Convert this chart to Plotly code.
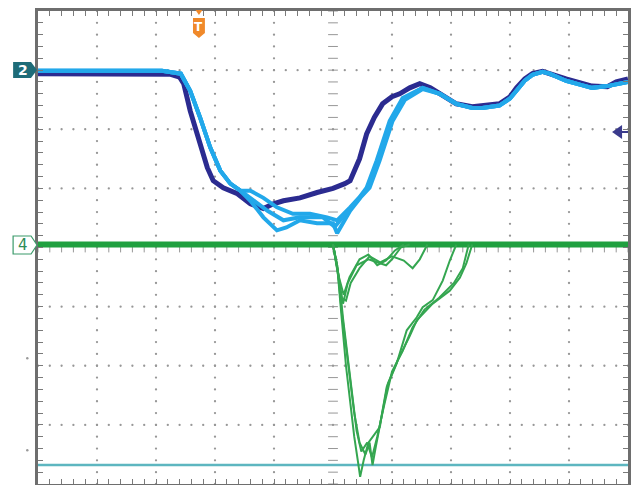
import numpy as np
import plotly.graph_objects as go

# ---------------- data (screen divisions: x -5..5, y -4..4) ----------------
ch2_dark_x = [-5, -3.1, -2.75, -2.6, -2.53, -2.42, -2.25, -2.13, -2.03, -1.86, -1.62, -1.40, -1.18,
              -1.01, -0.84, -0.56, -0.27, 0, 0.2, 0.29, 0.45, 0.57, 0.70, 0.84, 1.0, 1.13, 1.3, 1.47,
              1.65, 1.81, 2.09, 2.36, 2.53, 2.82, 3.0, 3.11, 3.25, 3.38, 3.55, 3.67, 3.95, 4.39, 4.65,
              4.80, 5]
ch2_dark_y = [2.94, 2.94, 2.93, 2.88, 2.77, 2.31, 1.76, 1.35, 1.13, 1.01, 0.91, 0.74, 0.66,
              0.74, 0.79, 0.84, 0.93, 1.0, 1.08, 1.13, 1.5, 1.92, 2.2, 2.43, 2.55, 2.60, 2.70, 2.77,
              2.70, 2.60, 2.43, 2.38, 2.40, 2.43, 2.55, 2.70, 2.85, 2.94, 2.98, 2.94, 2.85, 2.73, 2.72,
              2.80, 2.85]

ch2_light1_x = [-5, -2.9, -2.58, -2.42, -2.25, -2.08, -1.91, -1.74, -1.57, -1.40, -1.18, -0.95, -0.68,
                -0.39, -0.10, 0.07, 0.29, 0.45, 0.57, 0.74, 0.96, 1.18, 1.52, 1.81, 2.09, 2.36, 2.53,
                2.82, 3.0, 3.11, 3.25, 3.38, 3.55, 3.67, 3.95, 4.2, 4.39, 4.65, 4.80, 5]
ch2_light1_y = [2.99, 2.99, 2.94, 2.65, 2.19, 1.69, 1.30, 1.08, 0.96, 0.96, 0.84, 0.68, 0.57,
                0.57, 0.51, 0.46, 0.68, 0.85, 1.01, 1.47, 2.14, 2.53, 2.70, 2.60, 2.43, 2.36, 2.36,
                2.40, 2.52, 2.65, 2.82, 2.92, 2.97, 2.94, 2.82, 2.75, 2.70, 2.73, 2.76, 2.80]

ch2_light2_x = [-5, -2.9, -2.58, -2.42, -2.25, -2.08, -1.91, -1.74, -1.57, -1.40, -1.18, -0.95, -0.79,
                -0.56, -0.27, 0, 0.07, 0.29, 0.47, 0.62, 0.79, 1.01, 1.22, 1.52, 1.81, 2.09, 2.36,
                2.53, 2.82, 3.0, 3.11, 3.25, 3.38, 3.55, 3.67, 3.95, 4.2, 4.39, 4.65, 4.80, 5]
ch2_light2_y = [2.99, 2.99, 2.94, 2.65, 2.19, 1.69, 1.30, 1.08, 0.96, 0.79, 0.51, 0.29, 0.34,
                0.46, 0.41, 0.41, 0.24, 0.62, 0.85, 1.01, 1.47, 2.14, 2.50, 2.68, 2.60, 2.43, 2.36,
                2.36, 2.40, 2.52, 2.65, 2.82, 2.92, 2.97, 2.94, 2.82, 2.75, 2.70, 2.73, 2.76, 2.80]

ch2_light3_x = [-5, -2.9, -2.58, -2.42, -2.25, -2.08, -1.91, -1.74, -1.57, -1.40, -1.11, -0.84, -0.56,
                -0.17, 0.03, 0.29, 0.46, 0.60, 0.77, 0.99, 1.20, 1.52, 1.81, 2.09, 2.36, 2.53, 2.82,
                3.0, 3.11, 3.25, 3.38, 3.55, 3.67, 3.95, 4.2, 4.39, 4.65, 4.80, 5]
ch2_light3_y = [2.99, 2.99, 2.94, 2.65, 2.19, 1.69, 1.30, 1.08, 0.96, 0.84, 0.62, 0.46, 0.51,
                0.51, 0.35, 0.66, 0.85, 1.01, 1.47, 2.14, 2.52, 2.70, 2.60, 2.43, 2.36, 2.36, 2.40,
                2.52, 2.65, 2.82, 2.92, 2.97, 2.94, 2.82, 2.75, 2.70, 2.73, 2.76, 2.80]

ch4_base_x = [-5, 5]
ch4_base_y = [0.05, 0.05]

ch4_spike_a_x = [0, 0.07, 0.13, 0.17, 0.22, 0.29, 0.36, 0.42, 0.46, 0.52, 0.6, 0.79, 0.91, 1.08, 1.25,
                 1.42, 1.52, 1.69, 1.86, 1.98, 2.09]
ch4_spike_a_y = [0.05, -0.3, -1.0, -1.5, -2.0, -2.6, -3.2, -3.6, -3.88, -3.6, -3.3, -3.04, -2.36, -1.96,
                 -1.40, -1.18, -1.01, -0.89, -0.56, -0.22, 0.05]
ch4_spike_b_x = [0, 0.08, 0.15, 0.21, 0.28, 0.36, 0.45, 0.55, 0.62, 0.67, 0.72, 0.82, 0.93, 1.1, 1.3,
                 1.42, 1.69, 1.98, 2.15, 2.26, 2.36]
ch4_spike_b_y = [0.05, -0.4, -1.1, -1.6, -2.2, -2.8, -3.3, -3.5, -3.3, -3.68, -3.4, -2.9, -2.3, -1.9,
                 -1.5, -1.23, -0.95, -0.73, -0.51, -0.27, 0.05]
ch4_spike_c_x = [0, 0.1, 0.17, 0.24, 0.32, 0.40, 0.48, 0.58, 0.66, 0.75, 0.86, 1.0, 1.18, 1.35, 1.55,
                 1.8, 2.05, 2.2, 2.3]
ch4_spike_c_y = [0.05, -0.5, -1.2, -1.8, -2.5, -3.1, -3.45, -3.3, -3.55, -3.2, -2.7, -2.1, -1.75, -1.35,
                 -1.05, -0.85, -0.6, -0.35, 0.05]

ch4_dip1_x = [0, 0.07, 0.12, 0.17, 0.25, 0.4, 0.6, 0.8, 0.9, 1.0, 1.15, 1.3]
ch4_dip1_y = [0.05, -0.3, -0.7, -0.95, -0.6, -0.3, -0.2, -0.27, -0.3, -0.2, 0.0, 0.05]
ch4_dip2_x = [0, 0.08, 0.15, 0.22, 0.3, 0.45, 0.62, 0.8, 1.0, 1.2, 1.35, 1.47, 1.6]
ch4_dip2_y = [0.05, -0.4, -0.85, -0.9, -0.6, -0.35, -0.15, -0.25, -0.15, -0.22, -0.35, -0.2, 0.05]
ch4_dip3_x = [0, 0.1, 0.18, 0.28, 0.45, 0.6, 0.75, 0.9, 1.05, 1.2]
ch4_dip3_y = [0.05, -0.5, -0.8, -0.5, -0.2, -0.12, -0.3, -0.22, -0.05, 0.05]

cursor_x = [-5, 5]
cursor_y = [-3.68, -3.68]

channel_labels = ['2', '4']
trigger_label = 'T'

# ---------------- layout geometry ----------------
W, H = 632, 485
L, R, T, B = 38, 2, 11, 1
PW, PH = W - L - R, H - T - B


def pxx(sx):   # screen pixel -> paper x
    return (sx - L) / PW


def pxy(sy):   # screen pixel -> paper y
    return 1 - (sy - T) / PH


def poly(points):
    return 'M ' + ' L '.join(f'{pxx(a):.4f},{pxy(b):.4f}' for a, b in points) + ' Z'


DARK = '#2b2b90'
LIGHT = '#22a8ea'
GREEN = '#20a040'
GREEN_T = '#34a650'
GRIDC = '#979797'

fig = go.Figure()

# dotted graticule
gx, gy = [], []
fine = np.round(np.arange(-4, 4.0001, 0.2), 3)
finex = np.round(np.arange(-5, 5.0001, 0.2), 3)
for v in range(-4, 5):
    if v == 0:
        continue
    gx += [v] * len(fine)
    gy += list(fine)
for h in range(-3, 4):
    if h == 0:
        continue
    gx += list(finex)
    gy += [h] * len(finex)
fig.add_trace(go.Scatter(x=gx, y=gy, mode='markers', hoverinfo='skip',
                         marker=dict(size=2.3, color=GRIDC, line=dict(width=0))))
fig.add_trace(go.Scatter(x=[0] * len(fine), y=fine, mode='markers', hoverinfo='skip',
                         marker=dict(symbol='line-ew', size=7, line=dict(width=1, color=GRIDC))))
fig.add_trace(go.Scatter(x=finex, y=[0] * len(finex), mode='markers', hoverinfo='skip',
                         marker=dict(symbol='line-ns', size=7, line=dict(width=1, color=GRIDC))))

# cursor line
fig.add_trace(go.Scatter(x=cursor_x, y=cursor_y, mode='lines', line=dict(color='#5db6c0', width=2.5),
                         hoverinfo='skip'))

# channel 4 (green)
fig.add_trace(go.Scatter(x=ch4_base_x, y=ch4_base_y, mode='lines', line=dict(color=GREEN, width=6)))
for xs, ys in [(ch4_spike_a_x, ch4_spike_a_y), (ch4_spike_b_x, ch4_spike_b_y),
               (ch4_spike_c_x, ch4_spike_c_y), (ch4_dip1_x, ch4_dip1_y),
               (ch4_dip2_x, ch4_dip2_y), (ch4_dip3_x, ch4_dip3_y)]:
    fig.add_trace(go.Scatter(x=xs, y=ys, mode='lines', line=dict(color=GREEN_T, width=2)))

# channel 2 (blue persistence traces)
fig.add_trace(go.Scatter(x=ch2_dark_x, y=ch2_dark_y, mode='lines', line=dict(color=DARK, width=5)))
for xs, ys in [(ch2_light1_x, ch2_light1_y), (ch2_light2_x, ch2_light2_y), (ch2_light3_x, ch2_light3_y)]:
    fig.add_trace(go.Scatter(x=xs, y=ys, mode='lines', line=dict(color=LIGHT, width=4)))

# badges / markers drawn as paper shapes
shapes = [
    dict(type='path', path=poly([(13, 62), (31, 62), (37, 70), (31, 78), (13, 78)]),
         fillcolor='#1e6c78', line=dict(width=0)),
    dict(type='path', path=poly([(13, 236), (31, 236), (37, 245), (31, 254), (13, 254)]),
         fillcolor='white', line=dict(width=1.2, color='#3a9a6a')),
    dict(type='path', path=poly([(196, 10), (203, 10), (199.5, 15)]),
         fillcolor='#f0892a', line=dict(width=0)),
    dict(type='path', path=poly([(193.5, 18), (205.5, 18), (205.5, 33), (199.5, 38), (193.5, 33)]),
         fillcolor='#f0892a', line=dict(width=0)),
    dict(type='path', path=poly([(614, 132), (624, 125), (624, 139)]),
         fillcolor='#3a3a8c', line=dict(width=0)),
    dict(type='line', x0=pxx(623), x1=pxx(630), y0=pxy(132), y1=pxy(132),
         line=dict(width=2, color='#3a3a8c')),
    dict(type='circle', x0=pxx(26), x1=pxx(28.5), y0=pxy(357), y1=pxy(359.5),
         fillcolor='#9a9a9a', line=dict(width=0)),
    dict(type='circle', x0=pxx(26), x1=pxx(28.5), y0=pxy(449), y1=pxy(451.5),
         fillcolor='#9a9a9a', line=dict(width=0)),
]
for s in shapes:
    s.update(xref='paper', yref='paper', layer='above')
fig.update_layout(shapes=shapes)

fig.add_annotation(x=pxx(22.5), y=pxy(70), xref='paper', yref='paper', text='<b>' + channel_labels[0] + '</b>',
                   showarrow=False, font=dict(family='DejaVu Sans', size=14, color='white'),
                   xanchor='center', yanchor='middle')
fig.add_annotation(x=pxx(22.5), y=pxy(245), xref='paper', yref='paper', text=channel_labels[1],
                   showarrow=False, font=dict(family='DejaVu Sans', size=15, color='#2e8b57'),
                   xanchor='center', yanchor='middle')
fig.add_annotation(x=pxx(199.5), y=pxy(27), xref='paper', yref='paper', text='<b>' + trigger_label + '</b>',
                   showarrow=False, font=dict(family='DejaVu Sans', size=12, color='white'),
                   xanchor='center', yanchor='middle')

axis_common = dict(showgrid=False, zeroline=False, showticklabels=False, ticks='inside',
                   dtick=0.2, ticklen=5, tickwidth=1, tickcolor='#7a7a7a',
                   showline=True, linecolor='#6e6e6e', linewidth=3, mirror='ticks', fixedrange=True)
fig.update_xaxes(range=[-5, 5], tick0=-5, **axis_common)
fig.update_yaxes(range=[-4, 4], tick0=-4, **axis_common)

fig.update_layout(width=W, height=H, margin=dict(l=L, r=R, t=T, b=B),
                  paper_bgcolor='white', plot_bgcolor='white', showlegend=False)

fig.write_html('out.html', config={'displayModeBar': False},
               post_script="document.documentElement.style.overflow='hidden';"
                           "document.body.style.margin='0';document.body.style.overflow='hidden';")
